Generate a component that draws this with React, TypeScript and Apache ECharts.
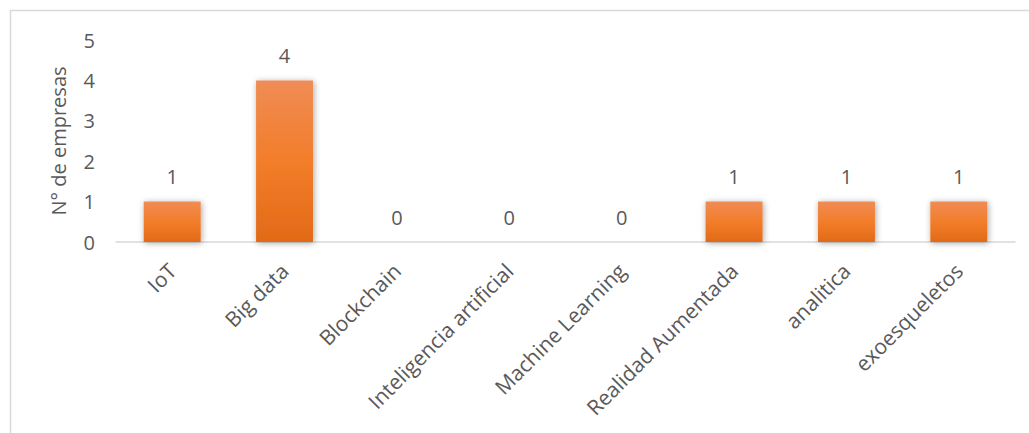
import React, { useEffect, useRef } from "react";
import * as echarts from "echarts";

const categories = [
  "IoT",
  "Big data",
  "Blockchain",
  "Inteligencia artificial",
  "Machine Learning",
  "Realidad Aumentada",
  "analitica",
  "exoesqueletos",
];
const values = [1, 4, 0, 0, 0, 1, 1, 1];
const yAxisName = "N° de empresas";
const FONT = "'Open Sans', 'Noto Sans', sans-serif";
const TEXT = "#595959";

export default function App() {
  const ref = useRef<HTMLDivElement>(null);
  useEffect(() => {
    if (!ref.current) return;
    const chart = echarts.init(ref.current, undefined, { renderer: "svg" });
    chart.setOption({
      animation: false,
      backgroundColor: "#ffffff",
      textStyle: { fontFamily: FONT },
      graphic: [
        {
          type: "rect",
          shape: { x: 10.5, y: 10.5, width: 1040, height: 450 },
          style: { fill: "none", stroke: "#d9d9d9", lineWidth: 1.5 },
          silent: true,
        },
      ],
      grid: { left: 116, right: 14, top: 40, bottom: 191, containLabel: false },
      xAxis: {
        type: "category",
        data: categories,
        axisLine: { show: true, lineStyle: { color: "#d9d9d9", width: 1.5 } },
        axisTick: { show: false },
        axisLabel: {
          interval: 0,
          rotate: 45,
          margin: 25,
          color: TEXT,
          fontSize: 21,
          fontFamily: FONT,
        },
      },
      yAxis: {
        type: "value",
        min: 0,
        max: 5,
        interval: 1,
        name: yAxisName,
        nameLocation: "middle",
        nameGap: 48,
        nameTextStyle: { color: TEXT, fontSize: 20, fontFamily: FONT },
        axisLine: { show: false },
        axisTick: { show: false },
        splitLine: { show: false },
        axisLabel: { color: TEXT, fontSize: 20, margin: 21, fontFamily: FONT },
      },
      series: [
        {
          type: "bar",
          data: values,
          barWidth: 57,
          itemStyle: {
            color: new echarts.graphic.LinearGradient(0, 0, 0, 1, [
              { offset: 0, color: "#F08C55" },
              { offset: 0.5, color: "#F27D2A" },
              { offset: 1, color: "#E26A17" },
            ]),
            shadowBlur: 6,
            shadowColor: "rgba(0,0,0,0.35)",
            shadowOffsetX: 1,
            shadowOffsetY: 1,
          },
          label: {
            show: true,
            position: "top",
            distance: 15,
            color: TEXT,
            fontSize: 20,
            fontFamily: FONT,
          },
        },
      ],
    });
    return () => chart.dispose();
  }, []);
  return (
    <div
      ref={ref}
      style={{ position: "fixed", left: 0, top: 0, width: 1029, height: 433 }}
    />
  );
}
